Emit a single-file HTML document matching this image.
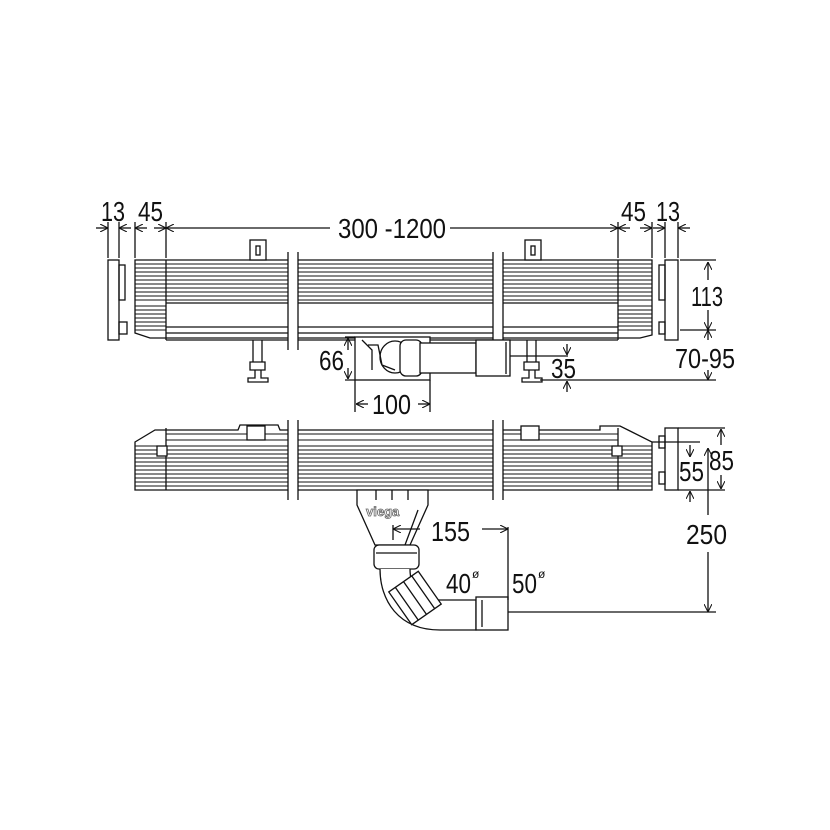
<!DOCTYPE html>
<html><head><meta charset="utf-8"><style>
html,body{margin:0;padding:0;background:#fff}
svg{display:block}
text{font-family:"Liberation Sans",sans-serif;font-size:28px;fill:#111}
</style></head><body>
<svg width="830" height="830" viewBox="0 0 830 830" xmlns="http://www.w3.org/2000/svg">
<defs>
<marker id="a" viewBox="0 0 10 10" refX="10" refY="5" markerWidth="8" markerHeight="8" orient="auto-start-reverse" markerUnits="userSpaceOnUse"><path d="M0,0 L10,5 L0,10" fill="none" stroke="#111" stroke-width="1.3"/></marker>
</defs>
<g fill="none" stroke="#111" stroke-width="1.3">
<rect x="108" y="260" width="11" height="80" fill="#fff"/>
<rect x="119" y="265" width="6" height="35"/>
<rect x="119" y="322" width="8" height="12"/>
<path d="M135,260 H652 V335 L640,338 H166 L150,338 L135,333 Z" fill="#fff"/>
<g stroke-width="0.9">
<path d="M135,264H652M135,268H652M135,272H652M135,276H652M135,280H652M135,284H652M135,288H652M135,292H652M135,296H652M135,300H652"/>
<path d="M135,306H166M135,310H166M135,314H166M135,318H166M135,322H166M135,326H166M135,330H166M618,306H652M618,310H652M618,314H652M618,318H652M618,322H652M618,326H652M618,330H652"/>
</g>
<path d="M166,260V340M618,260V340M166,303H618M166,327H618M166,333H618M166,340H618"/>
<rect x="665" y="260" width="13" height="80" fill="#fff"/>
<rect x="659" y="265" width="6" height="35"/>
<rect x="659" y="322" width="6" height="12"/>
<rect x="250" y="240" width="16" height="20" fill="#fff"/><rect x="256" y="246" width="4" height="9"/>
<rect x="525" y="240" width="16" height="20" fill="#fff"/><rect x="531" y="246" width="4" height="9"/>
<path d="M253,340V362H262V340M250,362H265V370H250Z M255,370V378H248V382H268V378H261V370"/>
<path d="M527,340V362H536V340M524,362H539V370H524Z M529,370V378H522V382H542V378H535V370"/>
<rect x="288" y="252" width="10" height="98" fill="#fff" stroke="none"/>
<path d="M288,252V350M298,252V350"/>
<rect x="493" y="252" width="10" height="98" fill="#fff" stroke="none"/>
<path d="M493,252V350M503,252V350"/>
<rect x="355" y="337" width="75" height="43" fill="#fff"/>
<path d="M362,340 L372,350 L372,370 M368,345 L378,345 L382,365 L395,370"/>
<ellipse cx="395" cy="357" rx="15" ry="16"/>
<rect x="400" y="340" width="22" height="36" rx="6" fill="#fff"/>
<rect x="420" y="343" width="56" height="30" fill="#fff"/>
<rect x="476" y="340" width="34" height="36" fill="#fff"/>
<path d="M506,342V374"/>
<path d="M135,442 L155,430 H238 L240,425 H278 L280,430 H600 V426 L620,426 L628,430 L652,442 V490 H135 Z" fill="#fff"/>
<g stroke-width="0.9">
<path d="M135,446H652M135,450H652M135,454H652M135,458H652M135,462H652M135,466H652M135,470H652M135,474H652M135,478H652M135,482H652M135,486H652"/>
<path d="M166,434H618M166,440H618"/>
</g>
<path d="M166,428V490M618,428V490"/>
<rect x="157" y="446" width="10" height="10" fill="#fff"/>
<rect x="612" y="446" width="10" height="10" fill="#fff"/>
<rect x="247" y="426" width="18" height="14" fill="#fff"/>
<rect x="521" y="426" width="18" height="14" fill="#fff"/>
<rect x="665" y="428" width="13" height="62" fill="#fff"/>
<rect x="659" y="436" width="6" height="12"/><rect x="659" y="472" width="6" height="12"/>
<rect x="288" y="420" width="10" height="80" fill="#fff" stroke="none"/>
<path d="M288,420V500M298,420V500"/>
<rect x="493" y="420" width="10" height="80" fill="#fff" stroke="none"/>
<path d="M493,420V500M503,420V500"/>
<path d="M357,490 H428 L428,505 L410,545 H375 L357,505 Z" fill="#fff"/>
<path d="M376,490V500M392,490V500M408,490V500M393,525V540M418,510L405,545"/>
<rect x="374" y="545" width="45" height="24" rx="5" fill="#fff"/>
<path d="M376,553H417"/>
<path d="M380,569 C380,600 398,630 440,630 H476 V600 H440 C418,600 410,585 410,569" fill="#fff"/>
<g transform="translate(415,598) rotate(-35)"><rect x="-18" y="-20" width="36" height="40" fill="#fff"/><path d="M-10,-20V20M0,-20V20M10,-20V20"/></g>
<rect x="476" y="597" width="32" height="33" fill="#fff"/>
<path d="M482,600V627"/>
<path d="M108,222V258M119,222V258M135,222V258M166,222V258M618,222V258M652,222V258M665,222V258M678,222V258"/>
<path d="M96,228H108" marker-end="url(#a)"/><path d="M131,228H119" marker-end="url(#a)"/>
<path d="M135,228H147" marker-start="url(#a)"/><path d="M154,228H166" marker-end="url(#a)"/>
<path d="M166,228H330" marker-start="url(#a)"/><path d="M450,228H618" marker-end="url(#a)"/>
<path d="M618,228H630" marker-start="url(#a)"/><path d="M640,228H652" marker-end="url(#a)"/>
<path d="M653,228H665" marker-end="url(#a)"/><path d="M690,228H678" marker-end="url(#a)"/>
<path d="M680,260H716M680,330H716M540,380H716"/>
<path d="M708,280V262" marker-end="url(#a)"/><path d="M708,310V330" marker-end="url(#a)"/>
<path d="M708,340V330" marker-end="url(#a)"/><path d="M708,370V380" marker-end="url(#a)"/>
<path d="M510,356H568"/><path d="M567,344V355" marker-end="url(#a)"/><path d="M567,392V381" marker-end="url(#a)"/>
<path d="M345,337H355M345,380H355"/>
<path d="M348,350V338" marker-end="url(#a)"/><path d="M348,368V379" marker-end="url(#a)"/>
<path d="M355,380V412M430,380V412"/>
<path d="M368,404H356" marker-end="url(#a)"/><path d="M418,404H430" marker-end="url(#a)"/>
<path d="M678,428H725M652,442H700M678,490H725"/>
<path d="M721,445V429" marker-end="url(#a)"/><path d="M721,475V489" marker-end="url(#a)"/>
<path d="M690,445V457" marker-end="url(#a)"/><path d="M690,502V491" marker-end="url(#a)"/>
<path d="M708,448V515" marker-start="url(#a)"/><path d="M708,552V612" marker-end="url(#a)"/>
<path d="M508,612H716M508,527V600"/>
<path d="M420,529H393" marker-end="url(#a)"/><path d="M482,529H508" marker-end="url(#a)"/>
</g>
<text x="366" y="516" style="font-size:13px;font-weight:bold;fill:#fff;stroke:#666;stroke-width:0.8">viega</text>
<g>
<text x="101" y="221" textLength="24" lengthAdjust="spacingAndGlyphs">13</text>
<text x="138" y="221" textLength="25" lengthAdjust="spacingAndGlyphs">45</text>
<text x="338" y="238" textLength="108" lengthAdjust="spacingAndGlyphs">300 -1200</text>
<text x="621" y="221" textLength="25" lengthAdjust="spacingAndGlyphs">45</text>
<text x="656" y="221" textLength="24" lengthAdjust="spacingAndGlyphs">13</text>
<text x="691" y="306" textLength="32" lengthAdjust="spacingAndGlyphs">113</text>
<text x="675" y="368" textLength="60" lengthAdjust="spacingAndGlyphs">70-95</text>
<text x="551" y="378" textLength="25" lengthAdjust="spacingAndGlyphs">35</text>
<text x="319" y="370" textLength="25" lengthAdjust="spacingAndGlyphs">66</text>
<text x="372" y="414" textLength="39" lengthAdjust="spacingAndGlyphs">100</text>
<text x="709" y="470" textLength="25" lengthAdjust="spacingAndGlyphs">85</text>
<text x="679" y="481" textLength="25" lengthAdjust="spacingAndGlyphs">55</text>
<text x="686" y="544" textLength="41" lengthAdjust="spacingAndGlyphs">250</text>
<text x="431" y="541" textLength="39" lengthAdjust="spacingAndGlyphs">155</text>
<text x="446" y="593" textLength="25" lengthAdjust="spacingAndGlyphs">40</text><text x="472" y="578" style="font-size:12px">ø</text>
<text x="512" y="593" textLength="25" lengthAdjust="spacingAndGlyphs">50</text><text x="538" y="578" style="font-size:12px">ø</text>
</g>
</svg>
</body></html>
